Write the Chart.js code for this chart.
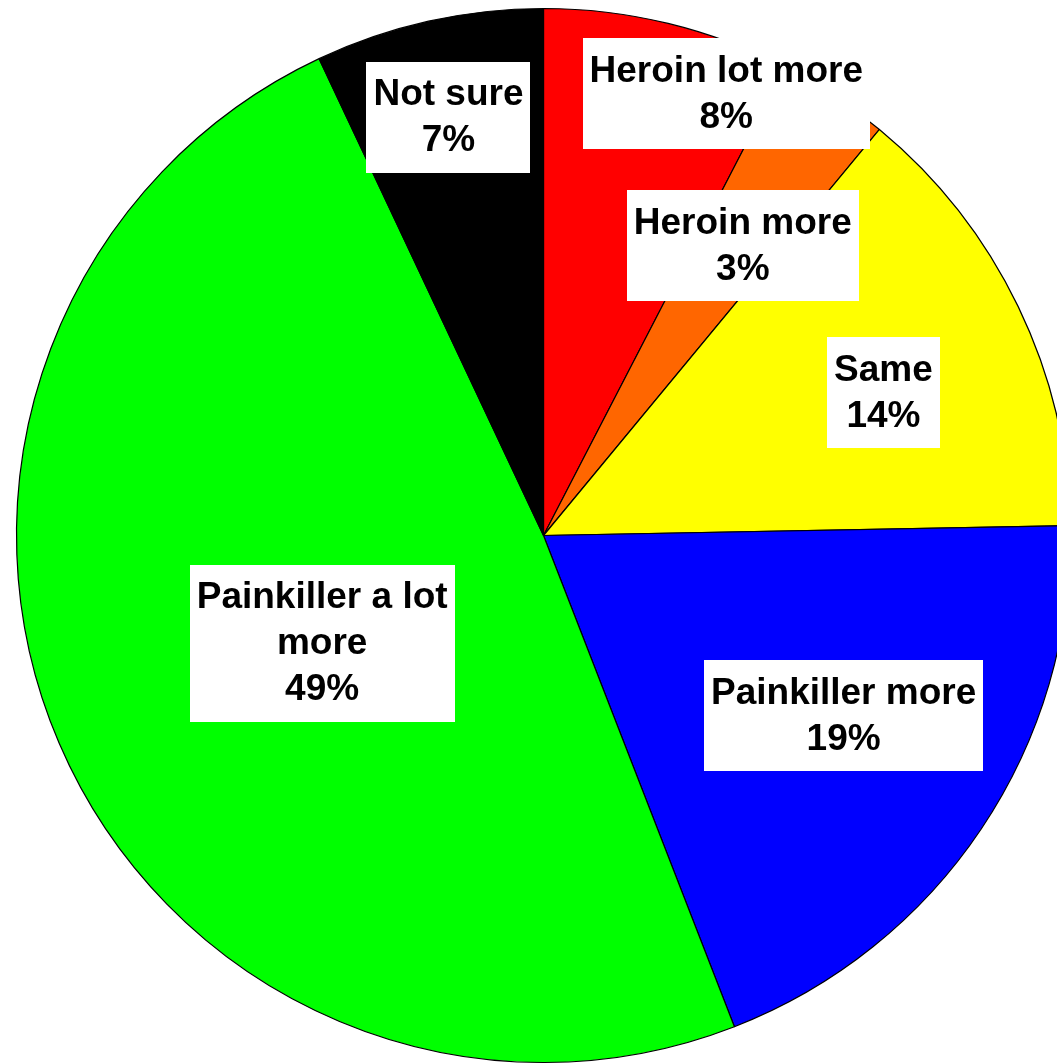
<!DOCTYPE html>
<html>
<head>
<meta charset="utf-8">
<script src="https://cdn.jsdelivr.net/npm/chart.js@4/dist/chart.umd.min.js"></script>
<style>
  html, body { margin: 0; padding: 0; background: #fff; overflow: hidden; }
  #wrap { position: absolute; left: 0; top: 0; width: 1087px; height: 1071px; }
</style>
</head>
<body>
<div id="wrap"><canvas id="pie" width="1087" height="1071"></canvas></div>
<script>
'use strict';

// ── Data ──────────────────────────────────────────────────────────────────────

const categories = ['Heroin lot more', 'Heroin more', 'Same', 'Painkiller more', 'Painkiller a lot more', 'Not sure'];
const shares = [7.6, 3.4, 13.7, 19.4, 48.9, 7.0];
const sliceColors = ['#ff0000', '#ff6600', '#ffff00', '#0000ff', '#00ff00', '#000000'];

// label placement: fraction of radius, angle nudge (deg) from the slice middle
const labelRadius = [0.907, 0.668, 0.70, 0.664, 0.467, 0.814];
const labelNudge = [8.8, 1.0, 2.9, -2.9, -2.7, -0.2];

const FONT = 'bold 37px "Liberation Sans", Arial, sans-serif';
const LINE_H = 46;
const PAD_X = 7;
const PAD_Y = 9.5;
const MAX_LINE = 290;

// ── Labels ────────────────────────────────────────────────────────────────────

function wrapText(ctx, text) {
    const words = text.split(' ');
    const lines = [];
    let cur = '';
    for (const w of words) {
        const next = cur ? cur + ' ' + w : w;
        if (cur && ctx.measureText(next).width > MAX_LINE) {
            lines.push(cur);
            cur = w;
        } else {
            cur = next;
        }
    }
    if (cur) lines.push(cur);
    return lines;
}

const boxLabels = {
    id: 'boxLabels',
    afterDatasetsDraw(chart) {
        const ctx = chart.ctx;
        const meta = chart.getDatasetMeta(0);
        const total = shares.reduce((a, b) => a + b, 0);
        ctx.save();
        ctx.font = FONT;
        ctx.textAlign = 'center';
        ctx.textBaseline = 'middle';
        meta.data.forEach((arc, i) => {
            const p = arc.getProps(['x', 'y', 'startAngle', 'endAngle', 'outerRadius'], true);
            const mid = (p.startAngle + p.endAngle) / 2 + labelNudge[i] * Math.PI / 180;
            const r = p.outerRadius * labelRadius[i];
            const cx = p.x + Math.cos(mid) * r;
            const cy = p.y + Math.sin(mid) * r;

            const pct = Math.round(shares[i] / total * 100) + '%';
            const lines = wrapText(ctx, categories[i]).concat([pct]);
            const w = Math.max(...lines.map(l => ctx.measureText(l).width)) + PAD_X * 2;
            const h = lines.length * LINE_H + PAD_Y * 2;

            ctx.fillStyle = '#ffffff';
            ctx.fillRect(Math.round(cx - w / 2), Math.round(cy - h / 2), Math.round(w), Math.round(h));
            ctx.fillStyle = '#000000';
            lines.forEach((l, k) => {
                ctx.fillText(l, cx, cy - h / 2 + PAD_Y + LINE_H * k + LINE_H / 2 + 1);
            });
        });
        ctx.restore();
    },
};

// ── Chart ─────────────────────────────────────────────────────────────────────

new Chart(document.getElementById('pie').getContext('2d'), {
    type: 'pie',
    data: {
        labels: categories,
        datasets: [{
            data: shares,
            backgroundColor: sliceColors,
            borderColor: '#000000',
            borderWidth: 1.2,
        }],
    },
    options: {
        responsive: false,
        animation: false,
        radius: 527,
        layout: { padding: 0 },
        plugins: {
            legend: { display: false },
            tooltip: { enabled: false },
        },
    },
    plugins: [boxLabels],
});
</script>
</body>
</html>
